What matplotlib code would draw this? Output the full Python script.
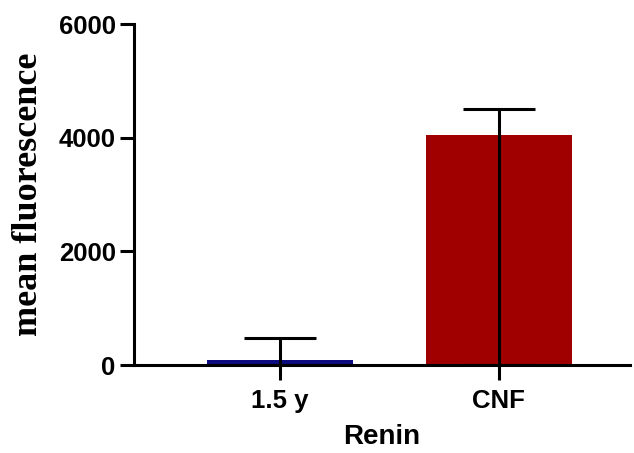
import matplotlib
matplotlib.use("Agg")
import matplotlib.pyplot as plt

categories = ["1.5 y", "CNF"]
means = [90, 4050]
upper_err = [385, 455]
colors = ["#0c0c80", "#a00000"]

fig = plt.figure(figsize=(6.34, 4.53), dpi=100)
ax = fig.add_axes([0.211, 0.194, 0.783, 0.753])

x = list(range(len(categories)))
lower_err = means
ax.bar(x, means, width=0.667, color=colors, zorder=2)
ax.errorbar(x, means, yerr=[lower_err, upper_err], fmt="none", ecolor="black",
            elinewidth=2.2, capsize=26, capthick=2.2, zorder=3)

ax.set_xlim(-0.667, 1.6)
ax.set_ylim(0, 6000)
ax.set_yticks([0, 2000, 4000, 6000])
ax.set_xticks(x)
ax.set_xticklabels(categories)

for s in ["top", "right"]:
    ax.spines[s].set_visible(False)
for s in ["left", "bottom"]:
    ax.spines[s].set_linewidth(2.2)
ax.tick_params(axis="both", width=2.2, length=10, labelsize=18.5)
ax.tick_params(axis="y", pad=3)
ax.tick_params(axis="x", length=11, pad=6)
for lab in ax.get_xticklabels() + ax.get_yticklabels():
    lab.set_fontfamily("Liberation Sans")
    lab.set_fontweight("bold")

ax.set_xlabel("Renin", fontfamily="Liberation Sans", fontweight="bold", fontsize=20, labelpad=8)
ax.set_ylabel("mean fluorescence", fontfamily="Liberation Serif", fontweight="bold", fontsize=26, labelpad=10)

fig.savefig("out.png", dpi=100)
